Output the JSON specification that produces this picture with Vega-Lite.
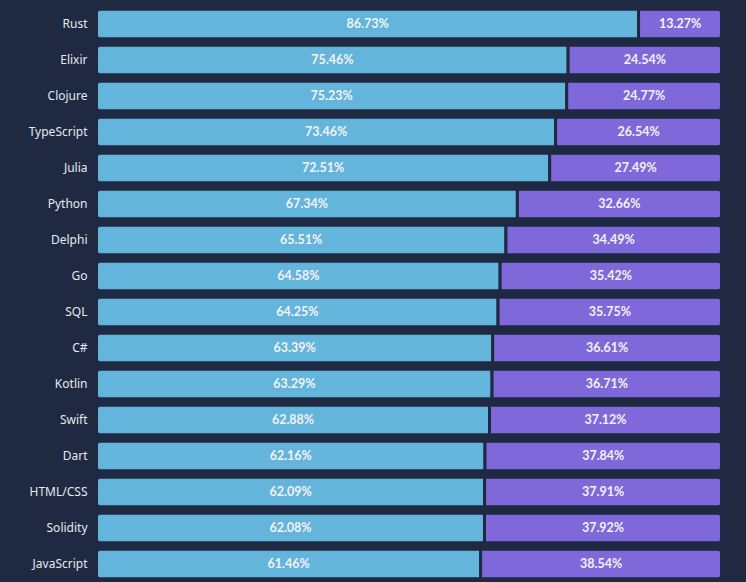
{
  "$schema": "https://vega.github.io/schema/vega-lite/v6.json",
  "width": 625,
  "height": 576,
  "autosize": "none",
  "padding": {"left": 96.5, "top": 6, "right": 24.5, "bottom": 0},
  "background": "#1f2a42",
  "config": {"view": {"stroke": null}},
  "data": {"values": [
    {"lang": "Rust", "a": 0.8673, "b": 0.1327},
    {"lang": "Elixir", "a": 0.7546, "b": 0.2454},
    {"lang": "Clojure", "a": 0.7523, "b": 0.2477},
    {"lang": "TypeScript", "a": 0.7346, "b": 0.2654},
    {"lang": "Julia", "a": 0.7251, "b": 0.2749},
    {"lang": "Python", "a": 0.6734, "b": 0.3266},
    {"lang": "Delphi", "a": 0.6551, "b": 0.3449},
    {"lang": "Go", "a": 0.6458, "b": 0.3542},
    {"lang": "SQL", "a": 0.6425, "b": 0.3575},
    {"lang": "C#", "a": 0.6339, "b": 0.3661},
    {"lang": "Kotlin", "a": 0.6329, "b": 0.3671},
    {"lang": "Swift", "a": 0.6288, "b": 0.3712},
    {"lang": "Dart", "a": 0.6216, "b": 0.3784},
    {"lang": "HTML/CSS", "a": 0.6209, "b": 0.3791},
    {"lang": "Solidity", "a": 0.6208, "b": 0.3792},
    {"lang": "JavaScript", "a": 0.6146, "b": 0.3854}
  ]},
  "transform": [{"fold": ["a", "b"], "as": ["key", "value"]}],
  "encoding": {
    "y": {
      "field": "lang", "type": "nominal", "sort": null,
      "scale": {"paddingInner": 0.1667, "paddingOuter": 0.0833},
      "axis": {"title": null, "domain": false, "ticks": false, "labelPadding": 9.5,
               "labelColor": "#e6e8ef", "labelFontSize": 12, "labelFont": "Noto Sans"}
    }
  },
  "layer": [
    {
      "mark": {"type": "bar", "cornerRadius": 4, "stroke": "#1f2a42", "strokeWidth": 3},
      "encoding": {
        "x": {"field": "value", "type": "quantitative", "stack": "zero", "scale": {"domain": [0, 1]}, "axis": null},
        "color": {"field": "key", "type": "nominal", "scale": {"domain": ["a", "b"], "range": ["#64b5dc", "#7f68d9"]}, "legend": null},
        "order": {"field": "key"}
      }
    },
    {
      "mark": {"type": "text", "color": "#f2f2f7", "font": "Lato", "fontWeight": "bold", "fontSize": 12.5, "align": "center", "baseline": "middle"},
      "encoding": {
        "x": {"field": "value", "type": "quantitative", "stack": "zero", "bandPosition": 0.5},
        "order": {"field": "key"},
        "detail": {"field": "key"},
        "text": {"field": "value", "type": "quantitative", "format": ".2%"}
      }
    }
  ]
}
